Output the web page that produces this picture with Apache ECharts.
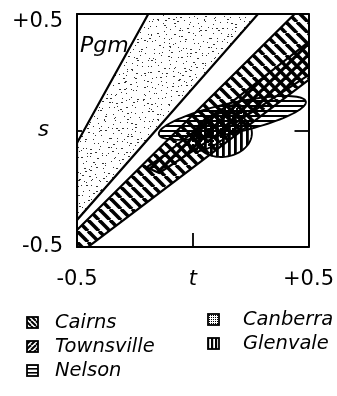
<!DOCTYPE html>
<html>
<head>
<meta charset="utf-8">
<script src="https://cdn.jsdelivr.net/npm/echarts@6/dist/echarts.min.js"></script>
<style>
  html, body { margin: 0; padding: 0; background: #fff; }
  #chart { width: 337px; height: 396px; }
</style>
</head>
<body>
<div id="chart"></div>
<script>
// tick values and their labels
const tickValues = [-0.5, 0, 0.5]
const tLabels = ['-0.5', 't', '+0.5']
const sLabels = ['-0.5', 's', '+0.5']

// regions in (t, s), polygons
const pgmBand = [[-0.5, -0.054], [-0.192, 0.5], [0.282, 0.5], [-0.5, -0.384]]
const cairnsBand = [[-0.6, -0.526], [0.6, 0.658], [0.6, 0.292], [-0.6, -0.611]]
const townsvilleBand = [[-0.2, -0.158], [-0.145, -0.122], [0.6, 0.458], [0.6, 0.303], [-0.145, -0.182]]

// ellipses: centre t, centre s, semi-axis a, semi-axis b, tilt (deg)
const nelsonEllipse = [0.171, 0.054, 0.325, 0.064, 12.5]
const canberraEllipse = [0.103, 0.011, 0.145, 0.056, 38]
const glenvaleEllipse = [0.132, -0.019, 0.124, 0.094, 8]

const font = 'DejaVu Sans'

// ---- fill patterns ----
function makeCanvas(w, h) {
  const c = document.createElement('canvas')
  c.width = w
  c.height = h
  return c
}
function diagPattern(n, lw, back) {
  const c = makeCanvas(n, n)
  const ctx = c.getContext('2d')
  ctx.strokeStyle = '#000'
  ctx.lineWidth = lw
  for (let k = -1; k <= 1; k++) {
    ctx.beginPath()
    if (back) { // "\"
      ctx.moveTo(k * n, 0)
      ctx.lineTo(k * n + n, n)
    }
    else { // "/"
      ctx.moveTo(k * n, n)
      ctx.lineTo(k * n + n, 0)
    }
    ctx.stroke()
  }
  return c
}
function linePattern(n, lw, vertical) {
  const c = makeCanvas(n, n)
  const ctx = c.getContext('2d')
  ctx.fillStyle = '#000'
  if (vertical)
    ctx.fillRect(0, 0, lw, n)
  else
    ctx.fillRect(0, 0, n, lw)
  return c
}
function dotGrid(n, d) {
  const c = makeCanvas(n, n)
  const ctx = c.getContext('2d')
  ctx.fillStyle = '#000'
  ctx.fillRect(0, 0, d, d)
  return c
}
// fine stipple, spread over a jittered grid so it looks even
function stipple(size, step) {
  const c = makeCanvas(size, size)
  const ctx = c.getContext('2d')
  ctx.fillStyle = '#333'
  let seed = 11
  const rnd = () => (seed = (seed * 16807) % 2147483647) / 2147483647
  for (let y = 0; y < size; y += step) {
    for (let x = 0; x < size; x += step) {
      const w = rnd() < 0.3 ? 2 : 1
      ctx.fillRect(x + Math.floor(rnd() * step), y + Math.floor(rnd() * step), w, 1)
    }
  }
  return c
}

const pat = {
  pgm: stipple(100, 5),
  cairns: diagPattern(11, 3.6, true),
  townsville: diagPattern(11, 3.2, false),
  nelson: linePattern(5, 2, false),
  canberra: dotGrid(4, 2),
  glenvale: linePattern(6, 2.8, true),
}
const fillOf = key => ({ image: pat[key], repeat: 'repeat' })

// small legend boxes
function legendIcon(key) {
  const c = makeCanvas(13, 13)
  const ctx = c.getContext('2d')
  let p = pat[key]
  if (key === 'cairns' || key === 'townsville')
    p = diagPattern(5, 2, key === 'cairns')
  else if (key === 'canberra')
    p = dotGrid(2, 1)
  else if (key === 'nelson')
    p = linePattern(4, 1.6, false)
  else if (key === 'glenvale')
    p = linePattern(4, 2.2, true)
  ctx.fillStyle = ctx.createPattern(p, 'repeat')
  ctx.fillRect(1, 1, 11, 11)
  ctx.strokeStyle = '#000'
  ctx.lineWidth = 1.8
  ctx.strokeRect(1, 1, 11, 11)
  return 'image://' + c.toDataURL()
}

// ---- render helpers ----
function polygonSeries(name, points, key, z) {
  return {
    name,
    type: 'custom',
    coordinateSystem: 'cartesian2d',
    clip: true,
    z,
    silent: true,
    data: [[0, 0]],
    renderItem: (params, api) => ({
      type: 'polygon',
      shape: { points: points.map(p => api.coord(p)) },
      style: { fill: fillOf(key), stroke: '#000', lineWidth: 2.2 },
    }),
  }
}
function ellipseSeries(name, e, key, z) {
  return {
    name,
    type: 'custom',
    coordinateSystem: 'cartesian2d',
    clip: true,
    z,
    silent: true,
    data: [[0, 0]],
    renderItem: (params, api) => {
      const [t, s, a, b, deg] = e
      const phi = deg * Math.PI / 180
      const pts = []
      for (let k = 0; k < 96; k++) {
        const th = k / 96 * Math.PI * 2
        const u = a * Math.cos(th)
        const v = b * Math.sin(th)
        pts.push(api.coord([t + u * Math.cos(phi) - v * Math.sin(phi), s + u * Math.sin(phi) + v * Math.cos(phi)]))
      }
      return {
        type: 'polygon',
        shape: { points: pts },
        style: { fill: fillOf(key), stroke: '#000', lineWidth: 1.9 },
      }
    },
  }
}

const labelRich = {
  it: { fontStyle: 'italic', fontFamily: font, fontSize: 21, color: '#000' },
  sy: { fontStyle: 'italic', fontFamily: font, fontSize: 21, color: '#000', padding: [0, 14, 0, 0] },
  top: { fontFamily: font, fontSize: 21, color: '#000', padding: [16, 0, 0, 0] },
}
const frameLine = { show: true, onZero: false, lineStyle: { color: '#000', width: 2 } }
const tickStyle = { color: '#000', width: 1.8 }

const chartOptions = {
  animation: false,
  backgroundColor: '#fff',
  grid: { left: 77, top: 14, right: 26, bottom: 149 },
  xAxis: [
    {
      type: 'value',
      min: -0.5,
      max: 0.5,
      interval: 0.5,
      z: 10,
      axisLine: frameLine,
      splitLine: { show: false },
      axisTick: { show: true, inside: true, length: 14, customValues: [0], lineStyle: tickStyle },
      axisLabel: {
        customValues: tickValues,
        margin: 22,
        color: '#000',
        fontFamily: font,
        fontSize: 21,
        rich: labelRich,
        formatter: (v) => {
          const lab = tLabels[tickValues.indexOf(v)]
          return v === 0 ? `{it|${lab}}` : lab
        },
      },
    },
    {
      type: 'value',
      position: 'top',
      min: -0.5,
      max: 0.5,
      z: 10,
      axisLine: frameLine,
      axisTick: { show: false },
      axisLabel: { show: false },
      splitLine: { show: false },
    },
  ],
  yAxis: [
    {
      type: 'value',
      min: -0.5,
      max: 0.5,
      interval: 0.5,
      z: 10,
      axisLine: frameLine,
      splitLine: { show: false },
      axisTick: { show: true, inside: true, length: 5, customValues: [0], lineStyle: tickStyle },
      axisLabel: {
        customValues: tickValues,
        margin: 14,
        color: '#000',
        fontFamily: font,
        fontSize: 21,
        rich: labelRich,
        formatter: (v) => {
          const lab = sLabels[tickValues.indexOf(v)]
          if (v === 0)
            return `{sy|${lab}}`
          return v > 0 ? `{top|${lab}}` : lab
        },
      },
    },
    {
      type: 'value',
      position: 'right',
      min: -0.5,
      max: 0.5,
      z: 10,
      axisLine: frameLine,
      axisTick: { show: true, inside: true, length: 14, customValues: [0], lineStyle: tickStyle },
      axisLabel: { show: false },
      splitLine: { show: false },
    },
  ],
  legend: [
    {
      orient: 'vertical',
      left: 21,
      top: 307,
      itemWidth: 13,
      itemHeight: 13,
      itemGap: 3,
      selectedMode: false,
      data: [
        { name: 'Cairns', icon: legendIcon('cairns') },
        { name: 'Townsville', icon: legendIcon('townsville') },
        { name: 'Nelson', icon: legendIcon('nelson') },
      ],
      textStyle: { fontFamily: font, fontStyle: 'italic', fontSize: 19.5, color: '#000', lineHeight: 21, padding: [0, 0, 0, 11] },
    },
    {
      orient: 'vertical',
      left: 202,
      top: 304,
      itemWidth: 13,
      itemHeight: 13,
      itemGap: 3,
      selectedMode: false,
      data: [
        { name: 'Canberra', icon: legendIcon('canberra') },
        { name: 'Glenvale', icon: legendIcon('glenvale') },
      ],
      textStyle: { fontFamily: font, fontStyle: 'italic', fontSize: 19.5, color: '#000', lineHeight: 21, padding: [0, 0, 0, 18] },
    },
  ],
  graphic: [
    { type: 'text', left: 80, top: 35, z: 20, style: { text: 'Pgm', fill: '#000', font: `italic 22px "${font}"` } },
  ],
  series: [
    polygonSeries('Pgm', pgmBand, 'pgm', 2),
    polygonSeries('Cairns', cairnsBand, 'cairns', 3),
    polygonSeries('Townsville', townsvilleBand, 'townsville', 4),
    ellipseSeries('Nelson', nelsonEllipse, 'nelson', 5),
    ellipseSeries('Canberra', canberraEllipse, 'canberra', 6),
    ellipseSeries('Glenvale', glenvaleEllipse, 'glenvale', 7),
  ],
}

const chart = echarts.init(document.getElementById('chart'))
chart.setOption(chartOptions)
</script>
</body>
</html>
